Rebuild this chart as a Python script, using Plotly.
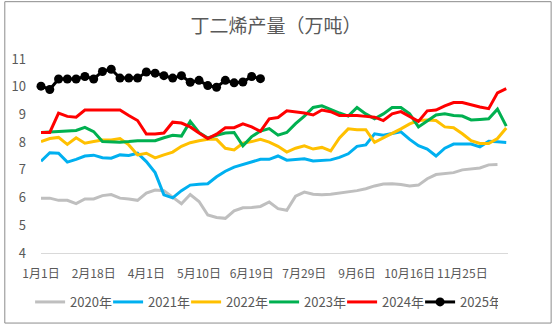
import plotly.graph_objects as go

# Weekly butadiene output, 10k tonnes; x is the week index within the year
tick_weeks = [0, 6, 12, 18, 24, 30, 36, 42, 48]
tick_labels = ["1月1日", "2月18日", "4月1日", "5月10日", "6月19日",
               "7月29日", "9月6日", "10月16日", "11月25日"]

y2020 = [5.98, 5.98, 5.9, 5.9, 5.78, 5.95, 5.95, 6.07, 6.11, 5.98, 5.95, 5.9, 6.16, 6.27,
         6.25, 6.01, 5.78, 6.11, 5.86, 5.37, 5.28, 5.25, 5.52, 5.63, 5.64, 5.68, 5.84, 5.6,
         5.54, 6.05, 6.2, 6.12, 6.1, 6.12, 6.16, 6.22, 6.25, 6.32, 6.42, 6.49, 6.5, 6.47,
         6.42, 6.45, 6.68, 6.83, 6.87, 6.9, 7.0, 7.03, 7.07, 7.18, 7.19]
y2021 = [7.31, 7.62, 7.6, 7.28, 7.38, 7.5, 7.53, 7.44, 7.42, 7.54, 7.52, 7.6, 7.3, 6.9,
         6.1, 5.99, 6.25, 6.45, 6.48, 6.5, 6.75, 6.95, 7.1, 7.2, 7.3, 7.38, 7.38, 7.5,
         7.35, 7.37, 7.4, 7.32, 7.33, 7.36, 7.45, 7.58, 7.85, 7.9, 8.3, 8.25, 8.31, 8.37,
         8.1, 7.87, 7.75, 7.5, 7.78, 7.93, 7.93, 7.93, 7.83, 8.03, 8.01, 7.99]
y2022 = [8.02, 8.13, 8.17, 7.92, 8.16, 7.96, 8.02, 8.08, 8.08, 8.13, 7.9, 7.54, 7.6, 7.43,
         7.54, 7.64, 7.85, 7.98, 8.05, 8.1, 8.1, 7.78, 7.72, 7.96, 8.02, 8.1, 8.0, 7.85,
         7.64, 7.78, 7.87, 7.75, 7.81, 7.68, 8.15, 8.48, 8.45, 8.45, 7.99, 8.15, 8.31, 8.48,
         8.66, 8.78, 8.8, 8.78, 8.55, 8.52, 8.3, 8.05, 7.95, 7.95, 8.13, 8.51]
y2023 = [8.35, 8.37, 8.4, 8.41, 8.42, 8.53, 8.38, 8.02, 8.0, 8.0, 8.02, 8.05, 8.05, 8.05,
         8.16, 8.25, 8.22, 8.75, 8.35, 8.15, 8.25, 8.33, 8.35, 7.87, 8.2, 8.4, 8.49, 8.25,
         8.35, 8.67, 8.94, 9.25, 9.31, 9.17, 9.05, 8.94, 9.25, 9.02, 8.84, 9.02, 9.25, 9.25,
         9.02, 8.55, 8.78, 8.98, 9.02, 8.96, 8.94, 8.8, 8.82, 8.84, 9.19, 8.58]
y2024 = [8.35, 8.35, 9.05, 8.93, 8.9, 9.16, 9.16, 9.16, 9.16, 9.16, 8.96, 8.78, 8.29, 8.29,
         8.33, 8.72, 8.69, 8.55, 8.33, 8.13, 8.29, 8.52, 8.52, 8.66, 8.55, 8.39, 8.84, 8.89,
         9.13, 9.1, 9.05, 8.98, 9.16, 9.1, 8.96, 8.96, 8.96, 8.93, 8.9, 8.78, 9.02, 9.1,
         8.93, 8.75, 9.13, 9.16, 9.31, 9.43, 9.43, 9.34, 9.27, 9.21, 9.78, 9.93]
y2025 = [10.02, 9.90, 10.28, 10.28, 10.28, 10.37, 10.28, 10.55, 10.63, 10.31, 10.31, 10.31,
         10.53, 10.49, 10.40, 10.31, 10.40, 10.16, 10.23, 10.04, 9.98, 10.23, 10.14, 10.17,
         10.37, 10.29]

series = [
    ("2020年", y2020, "#BFBFBF"),
    ("2021年", y2021, "#00B0F0"),
    ("2022年", y2022, "#FFC000"),
    ("2023年", y2023, "#00B050"),
    ("2024年", y2024, "#FF0000"),
]

FONT = "Noto Sans CJK SC"
TXT = "#595959"

fig = go.Figure()
for name, vals, color in series:
    fig.add_trace(go.Scatter(
        x=list(range(len(vals))), y=vals, name=name, mode="lines",
        line=dict(color=color, width=3), cliponaxis=False,
    ))
fig.add_trace(go.Scatter(
    x=list(range(len(y2025))), y=y2025, name="2025年", mode="lines+markers",
    line=dict(color="#000000", width=3),
    marker=dict(color="#000000", size=9), cliponaxis=False,
))

# plot area in pixels
L, R, T, B = 37, 44, 59, 72
W = 552 - L - R
H = 329 - T - B

fig.update_layout(
    width=552, height=329,
    margin=dict(l=L, r=R, t=T, b=B),
    paper_bgcolor="white", plot_bgcolor="white",
    font=dict(family=FONT, color=TXT, size=12),
    title=dict(text="丁二烯产量（万吨）", x=0.5, xanchor="center",
               y=1 - 26 / 329, yanchor="middle",
               font=dict(size=19, color=TXT, family=FONT)),
    showlegend=True,
    legend=dict(orientation="h", x=(26 - L) / W, xanchor="left",
                y=(-(307 - (T + H)) / H), yanchor="middle",
                bgcolor="rgba(0,0,0,0)",
                font=dict(size=13, color=TXT, family=FONT),
                entrywidth=33, entrywidthmode="pixels",
                itemwidth=30, tracegroupgap=0),
    xaxis=dict(range=[0, 53.2], tickmode="array", tickvals=tick_weeks,
               ticktext=tick_labels, showgrid=False, zeroline=False,
               showline=True, linecolor="#D9D9D9", linewidth=1,
               ticks="", tickfont=dict(size=12, color=TXT), ticklabelstandoff=10),
    yaxis=dict(range=[4, 11], dtick=1, showgrid=False, zeroline=False,
               showline=False, ticks="", tickfont=dict(size=13, color=TXT),
               ticklabelstandoff=14),
    shapes=[dict(type="rect", xref="paper", yref="paper",
                 x0=(0.5 - L) / W, x1=(551.5 - L) / W,
                 y0=-(B - 0.5) / H, y1=(H + T - 0.5) / H,
                 line=dict(color="#8C8C8C", width=1), fillcolor="rgba(0,0,0,0)",
                 layer="below")],
)

fig.write_html("out.html")
